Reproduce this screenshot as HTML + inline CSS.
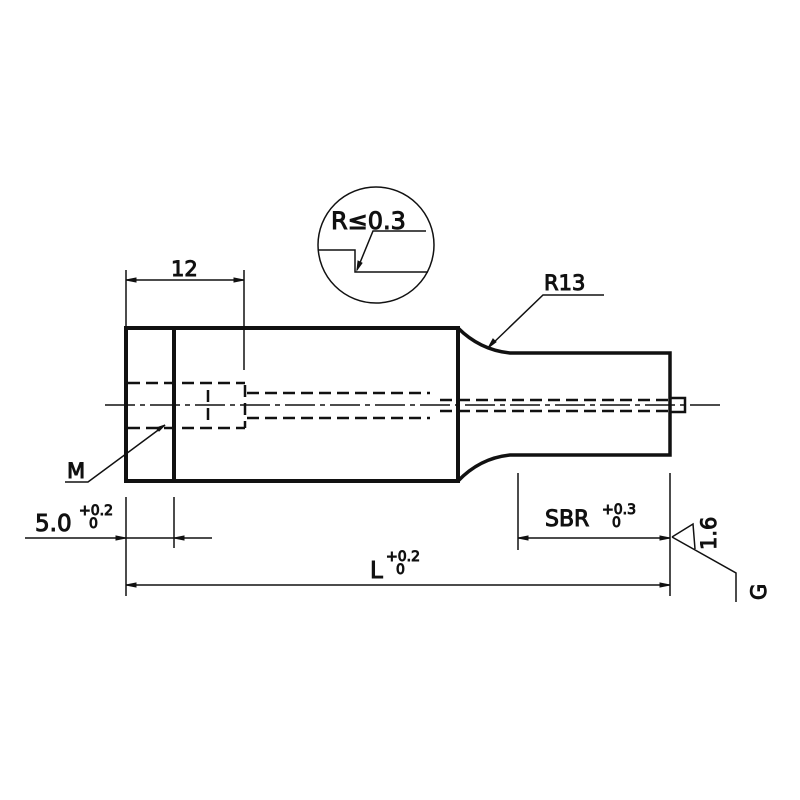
<!DOCTYPE html>
<html><head><style>body{margin:0;background:#fff}svg{display:block}text{font-family:"DejaVu Sans",sans-serif;fill:#111}</style></head><body>
<svg width="800" height="800" viewBox="0 0 800 800" xmlns="http://www.w3.org/2000/svg">
<g stroke="#111" fill="none">
<rect x="126" y="328" width="332" height="153" stroke-width="4"/>
<line x1="174" y1="328" x2="174" y2="481" stroke-width="4"/>
<path d="M458 328 Q480 350 510 353 L670 353 L670 455 L510 455 Q480 458 458 481" stroke-width="3.5"/>
<rect x="670" y="398" width="15" height="14" stroke-width="2.5"/>
<line x1="105" y1="405" x2="725" y2="405" stroke-width="1.5" stroke-dasharray="30,5,5,5"/>
<g stroke-width="2.5" stroke-dasharray="12,6">
<line x1="128" y1="383" x2="245" y2="383"/>
<line x1="128" y1="428" x2="245" y2="428"/>
<line x1="247" y1="393" x2="430" y2="393"/>
<line x1="247" y1="418" x2="430" y2="418"/>
<line x1="440" y1="400" x2="668" y2="400"/>
<line x1="440" y1="411" x2="668" y2="411"/>
<line x1="245" y1="385" x2="245" y2="428"/>
<line x1="208" y1="390" x2="208" y2="425"/>
</g>
<g stroke-width="1.5">
<line x1="126" y1="270" x2="126" y2="328"/>
<line x1="244" y1="270" x2="244" y2="370"/>
<line x1="126" y1="280" x2="244" y2="280"/>
<line x1="126" y1="497" x2="126" y2="596"/>
<line x1="174" y1="497" x2="174" y2="548"/>
<line x1="25" y1="538" x2="212" y2="538"/>
<line x1="126" y1="585" x2="670" y2="585"/>
<line x1="670" y1="473" x2="670" y2="596"/>
<line x1="518" y1="473" x2="518" y2="550"/>
<line x1="518" y1="538" x2="670" y2="538"/>
<path d="M672 537 L693 524 L695 549 M672 537 L736 573 L736 602"/>
<path d="M65 482 L88 482 L165 425"/>
<path d="M488 348 L543 295 L604 295"/>
<circle cx="376" cy="245" r="58"/>
<path d="M318 250 L355 250 L355 272 L428 272 M426 231 L373 231 L357 270"/>
</g>
<g fill="#111">
<path d="M126 280 l10 -2 v4z M244 280 l-10 -2 v4z M126 538 l-10 -2 v4z M174 538 l10 -2 v4z M126 585 l10 -2 v4z M670 585 l-10 -2 v4z M518 538 l10 -2 v4z M670 538 l-10 -2 v4z M165 425 l-9 3 3 3z M488 348 l5 -9 3 3z M357 270 l1 -9 4 2z"/>
</g>
<text x="171" y="276" font-size="21">12</text>
<text x="331" y="229" font-size="24">R≤0.3</text>
<text x="544" y="290" font-size="21">R13</text>
<text x="67" y="478" font-size="21">M</text>
<text x="35" y="531" font-size="23">5.0</text>
<text x="79" y="515" font-size="14">+0.2</text>
<text x="89" y="528" font-size="14">0</text>
<text x="370" y="578" font-size="23">L</text>
<text x="386" y="561" font-size="14">+0.2</text>
<text x="396" y="574" font-size="14">0</text>
<text x="545" y="526" font-size="22">SBR</text>
<text x="602" y="514" font-size="14">+0.3</text>
<text x="612" y="527" font-size="14">0</text>
<text transform="translate(716,550) rotate(-90)" font-size="21">1.6</text>
<text transform="translate(766,600) rotate(-90)" font-size="21">G</text>
</svg>
</body></html>
